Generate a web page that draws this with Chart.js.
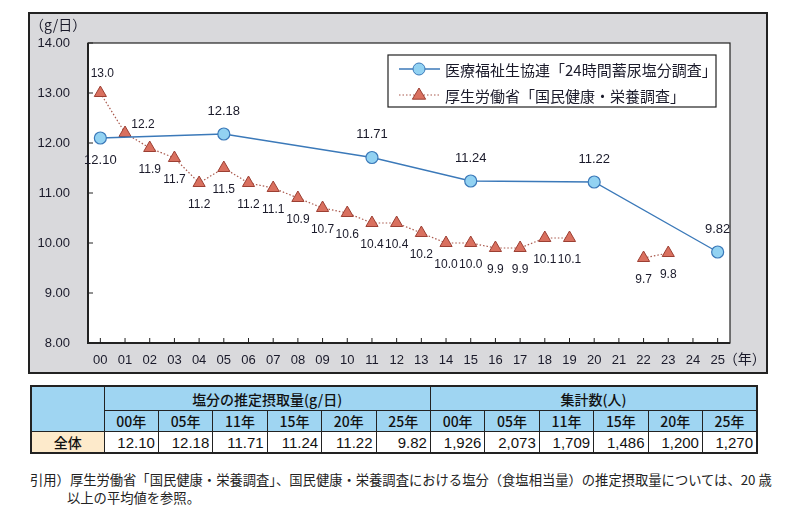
<!DOCTYPE html>
<html lang="ja">
<head>
<meta charset="utf-8">
<script src="https://cdn.jsdelivr.net/npm/chart.js@4.4.1/dist/chart.umd.min.js"></script>
<style>
  body { margin: 0; width: 790px; height: 518px; background: #fff; font-family: "Noto Sans CJK JP", sans-serif; position: relative; }
  #box { position: absolute; left: 28px; top: 12px; width: 736px; height: 358px; border: 2px solid #222; background: #d9d9dc; }
  #box canvas { display: block; }
  table { position: absolute; left: 30px; top: 385px; width: 728px; table-layout: fixed; border-collapse: collapse; border: 2px solid #222; color: #111; }
  td, th { border: 1px solid #222; padding: 0 3px; font-weight: 500; font-size: 14px; }
  th { background: #9fd5f2; text-align: center; }
  .r1 th { height: 23px; }
  .r2 th { height: 19px; }
  .r3 td { height: 18px; text-align: right; font-family: "Liberation Sans Narrow", "Liberation Sans", sans-serif; font-size: 15px; }
  .r3 td.cat { background: #fdeacb; text-align: center; font-family: "Noto Sans CJK JP", sans-serif; font-size: 14px; }
  #note { position: absolute; left: 30px; top: 471px; width: 760px; font-size: 13.3px; line-height: 18px; color: #222; white-space: nowrap; }
  #note span { padding-left: 37px; }
</style>
</head>
<body>
<div id="box"><canvas id="saltChart" width="736" height="358"></canvas></div>
<table id="tbl"></table>
<div id="note">引用）厚生労働省「国民健康・栄養調査」、国民健康・栄養調査における塩分（食塩相当量）の推定摂取量については、20 歳<br><span>以上の平均値を参照。</span></div>
<script>
// 年（横軸）
const years = ['00','01','02','03','04','05','06','07','08','09','10','11','12',
  '13','14','15','16','17','18','19','20','21','22','23','24','25'];

// 医療福祉生協連「24時間蓄尿塩分調査」
const kyokaiValues = [12.10, null, null, null, null, 12.18, null, null, null, null, null, 11.71, null,
  null, null, 11.24, null, null, null, null, 11.22, null, null, null, null, 9.82];
const kyokaiLabels = ['12.10', null, null, null, null, '12.18', null, null, null, null, null, '11.71', null,
  null, null, '11.24', null, null, null, null, '11.22', null, null, null, null, '9.82'];

// 厚生労働省「国民健康・栄養調査」
const mhlwValues = [13.0, 12.2, 11.9, 11.7, 11.2, 11.5, 11.2, 11.1, 10.9, 10.7, 10.6, 10.4, 10.4,
  10.2, 10.0, 10.0, 9.9, 9.9, 10.1, 10.1, null, null, 9.7, 9.8, null, null];

const yTicks = [8, 9, 10, 11, 12, 13, 14];

// 表のデータ
const tableYears = ['00年', '05年', '11年', '15年', '20年', '25年'];
const saltTable = ['12.10', '12.18', '11.71', '11.24', '11.22', '9.82'];
const countTable = [1926, 2073, 1709, 1486, 1200, 1270];

const colors = {
  blueLine: '#3b79b9',
  blueFill: '#92d2f2',
  redLine: '#a9584c',
  redFill: '#d9705f',
  redEdge: '#9c3f33',
  text: '#1a1a2a',
};

const numFont = '"Liberation Sans", Arial, sans-serif';

// 背景・枠・内向き目盛り・ラベル・凡例
const decorPlugin = {
  id: 'decor',
  beforeDraw(chart) {
    const { ctx, chartArea: a } = chart;
    ctx.save();
    ctx.fillStyle = '#fff';
    ctx.fillRect(a.left, a.top, a.right - a.left, a.bottom - a.top);
    ctx.restore();
  },
  afterDatasetsDraw(chart) {
    const { ctx, chartArea: a, scales } = chart;
    ctx.save();
    // 枠
    ctx.strokeStyle = '#222';
    ctx.lineWidth = 1.2;
    ctx.strokeRect(a.left, a.top, a.right - a.left, a.bottom - a.top);
    ctx.lineWidth = 2;
    ctx.beginPath();
    ctx.moveTo(a.left, a.top); ctx.lineTo(a.left, a.bottom); ctx.lineTo(a.right, a.bottom);
    ctx.stroke();
    // 内向き目盛り
    ctx.lineWidth = 1;
    ctx.beginPath();
    scales.x.ticks.forEach((t, i) => {
      const x = scales.x.getPixelForTick(i);
      ctx.moveTo(x, a.bottom); ctx.lineTo(x, a.bottom - 5);
    });
    yTicks.forEach(v => {
      const y = scales.y.getPixelForValue(v);
      ctx.moveTo(a.left, y); ctx.lineTo(a.left + 5, y);
    });
    ctx.stroke();

    // 単位
    ctx.fillStyle = colors.text;
    ctx.font = '14px "Noto Sans CJK JP", sans-serif';
    ctx.textAlign = 'left';
    ctx.textBaseline = 'middle';
    ctx.fillText('（g/日）', 0, 11);
    const lastX = scales.x.getPixelForValue(years.length - 1);
    ctx.fillText('（年）', lastX + 6, a.bottom + 16);

    // データラベル
    ctx.textAlign = 'center';
    const m0 = chart.getDatasetMeta(0);
    ctx.font = '13px ' + numFont;
    m0.data.forEach((p, i) => {
      if (kyokaiValues[i] == null) return;
      const dy = i === 0 ? 22 : -23;
      ctx.fillText(kyokaiLabels[i], p.x, p.y + dy);
    });
    const m1 = chart.getDatasetMeta(1);
    ctx.font = '12px ' + numFont;
    m1.data.forEach((p, i) => {
      if (mhlwValues[i] == null) return;
      let dx = 0, dy = 22;
      if (i === 0) { dx = 2; dy = -19; }
      if (i === 1) { dx = 18; dy = -8; }
      ctx.fillText(mhlwValues[i].toFixed(1), p.x + dx, p.y + dy);
    });

    // 凡例
    const lx = 358, ly = 41, lw = 328, lh = 52;
    ctx.fillStyle = '#fff';
    ctx.fillRect(lx, ly, lw, lh);
    ctx.strokeStyle = '#222';
    ctx.lineWidth = 1.2;
    ctx.strokeRect(lx, ly, lw, lh);
    const items = [
      { text: '医療福祉生協連「24時間蓄尿塩分調査」', ds: chart.data.datasets[0], y: ly + 14 },
      { text: '厚生労働省「国民健康・栄養調査」', ds: chart.data.datasets[1], y: ly + 40 },
    ];
    items.forEach(it => {
      ctx.strokeStyle = it.ds.borderColor;
      ctx.lineWidth = it.ds.borderWidth;
      ctx.setLineDash(it.ds.borderDash || []);
      ctx.beginPath();
      ctx.moveTo(lx + 11, it.y); ctx.lineTo(lx + 52, it.y);
      ctx.stroke();
      ctx.setLineDash([]);
      ctx.fillStyle = it.ds.pointBackgroundColor;
      ctx.strokeStyle = it.ds.pointBorderColor;
      ctx.lineWidth = 1;
      ctx.beginPath();
      if (it.ds.pointStyle === 'circle') {
        ctx.arc(lx + 31, it.y, it.ds.pointRadius, 0, Math.PI * 2);
      } else {
        const r = it.ds.pointRadius;
        ctx.moveTo(lx + 31, it.y - r);
        ctx.lineTo(lx + 31 + r * 0.95, it.y + r * 0.6);
        ctx.lineTo(lx + 31 - r * 0.95, it.y + r * 0.6);
        ctx.closePath();
      }
      ctx.fill(); ctx.stroke();
      ctx.fillStyle = colors.text;
      ctx.textAlign = 'left';
      ctx.font = '15px "Noto Sans CJK JP", sans-serif';
      ctx.fillText(it.text, lx + 57, it.y + 1);
    });
    ctx.restore();
  }
};

new Chart(document.getElementById('saltChart'), {
  type: 'line',
  data: {
    labels: years,
    datasets: [
      {
        label: '医療福祉生協連「24時間蓄尿塩分調査」',
        data: kyokaiValues,
        spanGaps: true,
        borderColor: colors.blueLine,
        borderWidth: 1.3,
        pointStyle: 'circle',
        pointRadius: 6,
        pointBackgroundColor: colors.blueFill,
        pointBorderColor: colors.blueLine,
        pointBorderWidth: 1.2,
        tension: 0,
      },
      {
        label: '厚生労働省「国民健康・栄養調査」',
        data: mhlwValues,
        spanGaps: false,
        borderColor: colors.redLine,
        borderWidth: 1.2,
        borderDash: [1.5, 2],
        pointStyle: 'triangle',
        pointRadius: 7,
        pointBackgroundColor: colors.redFill,
        pointBorderColor: colors.redEdge,
        pointBorderWidth: 1,
        tension: 0,
      }
    ]
  },
  options: {
    responsive: false,
    animation: false,
    layout: { padding: { left: 0, top: 29, right: 36, bottom: 0 } },
    plugins: {
      legend: { display: false },
      tooltip: { enabled: false }
    },
    scales: {
      x: {
        offset: true,
        grid: { display: false, drawTicks: false },
        border: { display: false },
        ticks: {
          color: colors.text,
          font: { family: numFont, size: 13 },
          padding: 10,
          maxRotation: 0,
          autoSkip: false,
        },
        afterFit: s => { s.height = 29; }
      },
      y: {
        min: 8,
        max: 14,
        afterBuildTicks: s => { s.ticks = yTicks.map(v => ({ value: v })); },
        grid: { display: false, drawTicks: false },
        border: { display: false },
        ticks: {
          color: colors.text,
          font: { family: numFont, size: 13 },
          padding: 18,
          callback: v => v.toFixed(2),
        },
        afterFit: s => { s.width = 58; }
      }
    }
  },
  plugins: [decorPlugin]
});

// 表
const tbl = document.getElementById('tbl');
let html = '<colgroup><col style="width:73px">';
for (let i = 0; i < 12; i++) html += '<col>';
html += '</colgroup>';
html += '<tr class="r1"><th rowspan="2"></th><th colspan="6">塩分の推定摂取量(g/日)</th><th colspan="6">集計数(人)</th></tr>';
html += '<tr class="r2">' + tableYears.map(y => `<th>${y}</th>`).join('') + tableYears.map(y => `<th>${y}</th>`).join('') + '</tr>';
html += '<tr class="r3"><td class="cat">全体</td>' + saltTable.map(v => `<td>${v}</td>`).join('')
  + countTable.map(v => `<td>${v.toLocaleString('en-US')}</td>`).join('') + '</tr>';
tbl.innerHTML = html;
</script>
</body>
</html>
